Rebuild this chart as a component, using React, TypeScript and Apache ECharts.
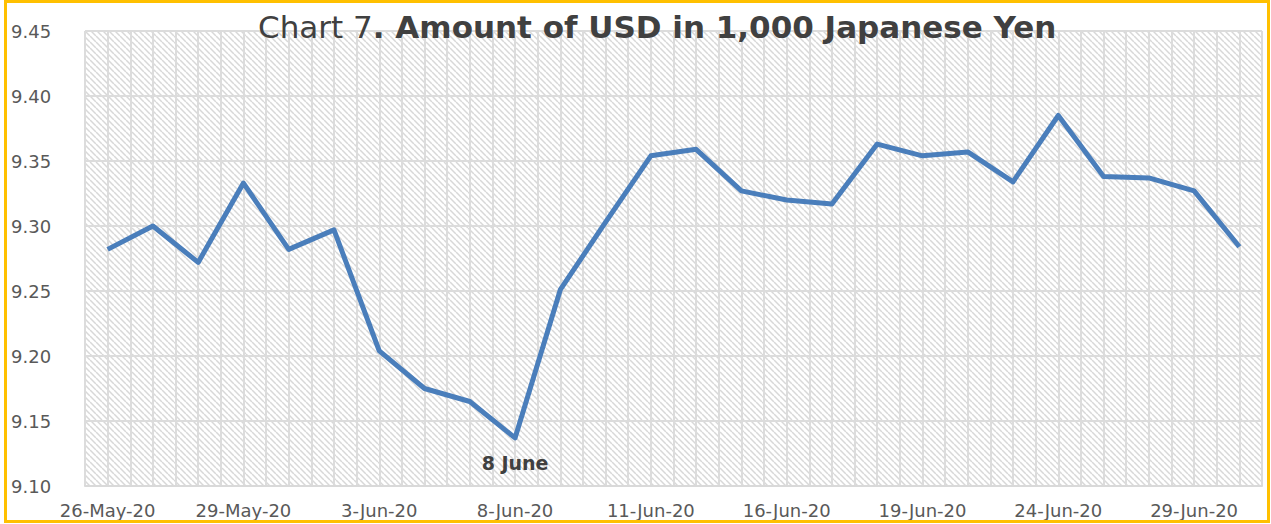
import React, { useEffect, useRef } from "react";
import * as echarts from "echarts";

const dates = [
  "26-May-20", "27-May-20", "28-May-20", "29-May-20", "1-Jun-20", "2-Jun-20", "3-Jun-20",
  "4-Jun-20", "5-Jun-20", "8-Jun-20", "9-Jun-20", "10-Jun-20", "11-Jun-20", "12-Jun-20",
  "15-Jun-20", "16-Jun-20", "17-Jun-20", "18-Jun-20", "19-Jun-20", "22-Jun-20", "23-Jun-20",
  "24-Jun-20", "25-Jun-20", "26-Jun-20", "29-Jun-20", "30-Jun-20",
];
const usdPer1000Yen = [
  9.282, 9.300, 9.272, 9.333, 9.282, 9.297, 9.204, 9.175, 9.165, 9.137, 9.251, 9.303, 9.354,
  9.359, 9.327, 9.320, 9.317, 9.363, 9.354, 9.357, 9.334, 9.385, 9.338, 9.337, 9.327, 9.284,
];
const yMin = 9.1;
const yMax = 9.45;
const yStep = 0.05;
const annotationIndex = 9;
const annotationText = "8 June";
const titleLight = "Chart 7";
const titleBold = ". Amount of USD in 1,000 Japanese Yen";

function makeHatch(): HTMLCanvasElement {
  const s = 6;
  const c = document.createElement("canvas");
  c.width = s;
  c.height = s;
  const ctx = c.getContext("2d")!;
  ctx.fillStyle = "#ffffff";
  ctx.fillRect(0, 0, s, s);
  ctx.strokeStyle = "#d8d8d8";
  ctx.lineWidth = 1.5;
  for (let k = -s; k <= s; k += s) {
    ctx.beginPath();
    ctx.moveTo(k, 0);
    ctx.lineTo(k + s, s);
    ctx.stroke();
  }
  return c;
}

export default function App() {
  const ref = useRef<HTMLDivElement>(null);
  useEffect(() => {
    if (!ref.current) return;
    const chart = echarts.init(ref.current, undefined, { renderer: "svg" });
    const halfCats = dates.flatMap((d) => [d + "a", d + "b"]);
    chart.setOption({
      animation: false,
      backgroundColor: "#ffffff",
      title: {
        text: `{a|${titleLight}}{b|${titleBold}}`,
        left: 253,
        top: 6,
        textStyle: {
          rich: {
            a: { fontFamily: "DejaVu Sans", fontSize: 31, color: "#404040", fontWeight: "normal" },
            b: { fontFamily: "DejaVu Sans", fontSize: 31, color: "#404040", fontWeight: "bold" },
          },
        },
      },
      graphic: [
        {
          type: "rect",
          shape: { x: 5.5, y: 1.5, width: 1263, height: 520 },
          style: { fill: "none", stroke: "#FFC000", lineWidth: 3 },
          z: 100,
        },
      ],
      grid: {
        left: 85,
        right: 9,
        top: 31,
        bottom: 38,
        show: true,
        borderWidth: 0,
        backgroundColor: { image: makeHatch(), repeat: "repeat" },
      },
      xAxis: [
        {
          type: "category",
          data: dates,
          boundaryGap: true,
          axisLine: { show: true, lineStyle: { color: "#d9d9d9", width: 2 } },
          axisTick: { show: false },
          splitLine: { show: false },
          axisLabel: {
            interval: 2,
            color: "#595959",
            fontFamily: "DejaVu Sans",
            fontSize: 18,
            margin: 15,
          },
        },
        {
          type: "category",
          data: halfCats,
          boundaryGap: true,
          position: "bottom",
          axisLine: { show: false },
          axisTick: { show: false },
          axisLabel: { show: false, interval: 0 },
          splitLine: { show: true, interval: 0, lineStyle: { color: "#dcdcdc", width: 2 } },
        },
      ],
      yAxis: {
        type: "value",
        min: yMin,
        max: yMax,
        interval: yStep,
        axisLine: { show: false },
        axisTick: { show: false },
        splitLine: { show: true, lineStyle: { color: "#dcdcdc", width: 2 } },
        axisLabel: {
          align: "left",
          margin: 74,
          color: "#595959",
          fontFamily: "DejaVu Sans",
          fontSize: 18,
          formatter: (v: number) => v.toFixed(2),
        },
      },
      series: [
        {
          type: "line",
          xAxisIndex: 0,
          data: usdPer1000Yen,
          symbol: "none",
          lineStyle: { color: "#4a7ebb", width: 5, join: "round" },
          z: 10,
          markPoint: {
            symbol: "circle",
            symbolSize: 1,
            itemStyle: { color: "rgba(0,0,0,0)" },
            label: {
              show: true,
              position: "bottom",
              distance: 15,
              formatter: annotationText,
              fontFamily: "DejaVu Sans",
              fontWeight: "bold",
              fontSize: 19,
              color: "#404040",
            },
            data: [
              { coord: [annotationIndex, usdPer1000Yen[annotationIndex]] },
            ],
          },
        },
      ],
    });
    return () => chart.dispose();
  }, []);
  return (
    <div
      ref={ref}
      style={{ position: "fixed", left: 0, top: 0, width: 1271, height: 524 }}
    />
  );
}
